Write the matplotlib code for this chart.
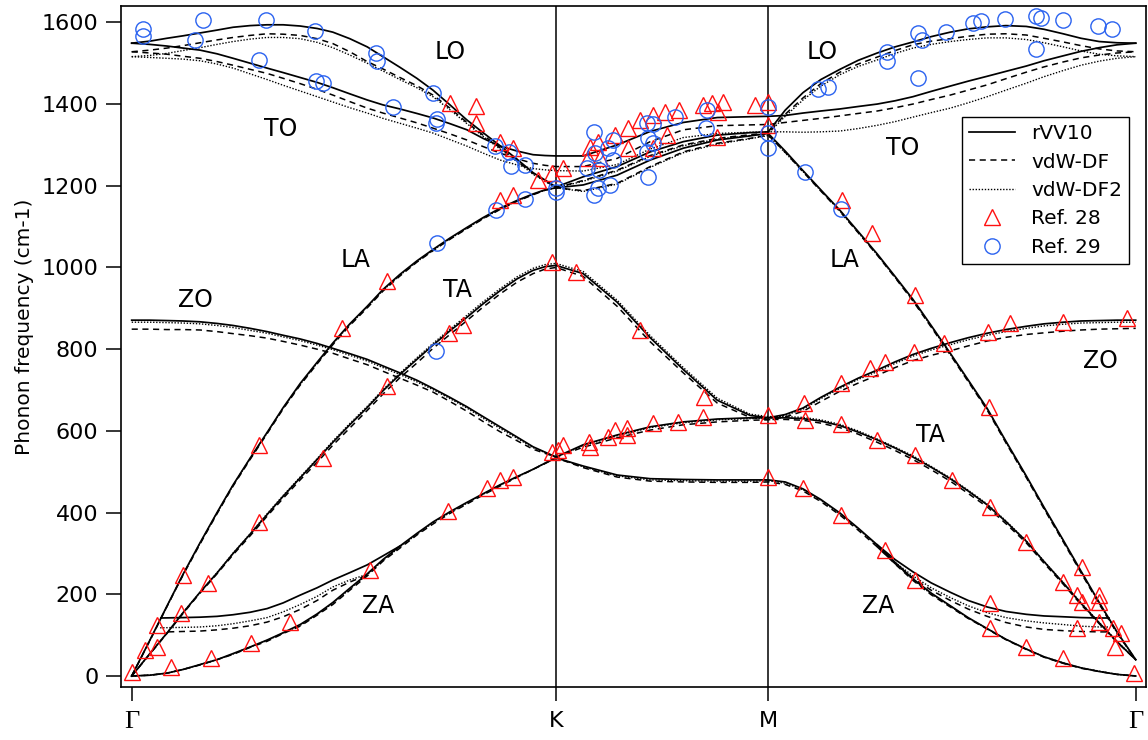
import matplotlib
matplotlib.use('Agg')
import matplotlib.pyplot as plt

# path coordinate: G=0, K=1, M=1.5, G=2.366
q_gk = [0.0, 0.043, 0.083, 0.121, 0.161, 0.201, 0.239, 0.279, 0.319, 0.357, 0.397, 0.437, 0.474,
        0.514, 0.555, 0.592, 0.632, 0.672, 0.710, 0.750, 0.790, 0.828, 0.868, 0.908, 0.946, 0.974, 1.0]
q_km = [1.064, 1.144, 1.222, 1.300, 1.380, 1.457, 1.5]
q_mg = [1.540, 1.582, 1.624, 1.669, 1.712, 1.757, 1.799, 1.841, 1.884, 1.929, 1.971, 2.016,
        2.060, 2.108, 2.150, 2.195, 2.237, 2.280, 2.322, 2.366]
q_path = q_gk + q_km + q_mg

# rVV10 bands (cm-1): G-K | K-M | M-G
lo_rvv = [1549, 1554, 1561, 1567, 1574, 1581, 1588, 1592, 1594, 1594, 1591, 1585, 1576, 1560,
          1540, 1516, 1490, 1463, 1434, 1398, 1361, 1330, 1298, 1265, 1232, 1214, 1197,
          1222, 1247, 1283, 1308, 1324, 1330, 1332,
          1385, 1428, 1460, 1485, 1507, 1525, 1540, 1552, 1565, 1576, 1584, 1589, 1592, 1590,
          1583, 1572, 1561, 1553, 1550, 1549]
to_rvv = [1549, 1546, 1542, 1537, 1532, 1523, 1512, 1500, 1488, 1477, 1465, 1453, 1440, 1425,
          1410, 1398, 1388, 1377, 1366, 1352, 1337, 1316, 1297, 1285, 1276, 1274, 1273,
          1273, 1300, 1333, 1355, 1367, 1369, 1370,
          1372, 1378, 1383, 1388, 1394, 1400, 1408, 1418, 1431, 1444, 1456, 1468, 1480, 1493,
          1506, 1518, 1529, 1538, 1545, 1549]
la_rvv = [0, 88, 171, 249, 326, 400, 468, 533, 596, 657, 716, 768, 815, 862,
          905, 946, 983, 1016, 1044, 1072, 1098, 1122, 1145, 1164, 1180, 1190, 1195,
          1202, 1226, 1263, 1292, 1312, 1322, 1328,
          1285, 1237, 1190, 1140, 1088, 1033, 978, 922, 858, 790, 725, 655, 575, 490,
          413, 333, 257, 180, 108, 40]
ta_rvv = [0, 55, 105, 155, 205, 252, 300, 347, 395, 440, 485, 530, 572, 615,
          657, 698, 738, 775, 810, 845, 878, 911, 943, 972, 993, 1002, 1005,
          985, 915, 828, 750, 675, 638, 632,
          632, 630, 624, 613, 597, 578, 558, 536, 511, 483, 453, 419, 378, 330,
          280, 228, 178, 130, 84, 40]
zo_rvv = [871, 871, 870, 869, 867, 863, 858, 851, 843, 834, 825, 814, 802, 789,
          775, 759, 742, 724, 704, 682, 659, 635, 610, 585, 561, 548, 536,
          566, 590, 610, 622, 629, 632, 632,
          640, 656, 682, 707, 729, 749, 769, 787, 802, 816, 828, 839, 848, 856,
          862, 866, 869, 870, 871, 871]
za_rvv = [0, 2, 7, 16, 28, 40, 55, 71, 88, 106, 126, 152, 180, 215,
          250, 285, 318, 349, 377, 402, 425, 446, 468, 488, 506, 521, 534,
          514, 492, 483, 481, 480, 480, 480,
          475, 458, 432, 399, 362, 321, 278, 238, 203, 172, 143, 116, 90, 66,
          47, 32, 20, 11, 4, 0]

# vdW-DF bands
lo_df = [1528, 1532, 1537, 1543, 1550, 1557, 1563, 1568, 1572, 1571, 1568, 1560, 1548, 1528,
         1504, 1486, 1465, 1445, 1422, 1390, 1355, 1324, 1293, 1261, 1230, 1212, 1195,
         1213, 1238, 1274, 1300, 1316, 1325, 1329,
         1375, 1415, 1450, 1478, 1498, 1515, 1531, 1545, 1554, 1560, 1566, 1571, 1572, 1569,
         1561, 1552, 1543, 1535, 1530, 1528]
to_df = [1528, 1525, 1522, 1517, 1512, 1504, 1495, 1485, 1475, 1463, 1450, 1436, 1422, 1406,
         1390, 1378, 1366, 1354, 1341, 1327, 1312, 1296, 1280, 1266, 1255, 1250, 1247,
         1247, 1267, 1308, 1337, 1347, 1349, 1350,
         1355, 1360, 1365, 1371, 1377, 1383, 1391, 1400, 1411, 1422, 1434, 1447, 1462, 1478,
         1491, 1503, 1513, 1520, 1525, 1528]
la_df = [0, 87, 170, 247, 323, 397, 465, 530, 593, 654, 712, 764, 811, 858,
         901, 942, 979, 1013, 1041, 1069, 1095, 1119, 1142, 1162, 1178, 1189, 1195,
         1188, 1206, 1247, 1283, 1304, 1316, 1324,
         1282, 1234, 1187, 1137, 1085, 1030, 975, 918, 854, 786, 721, 651, 571, 486,
         409, 329, 253, 176, 105, 40]
ta_df = [0, 54, 104, 153, 203, 250, 297, 343, 391, 435, 480, 523, 565, 607,
         650, 690, 730, 766, 802, 836, 870, 903, 935, 964, 985, 996, 1000,
         978, 905, 818, 742, 668, 633, 628,
         628, 626, 619, 608, 592, 572, 552, 530, 505, 477, 447, 414, 373, 326,
         276, 225, 175, 128, 83, 40]
zo_df = [849, 849, 848, 848, 847, 843, 838, 833, 827, 819, 810, 800, 790, 776,
         762, 746, 729, 712, 695, 672, 648, 623, 598, 576, 555, 545, 536,
         560, 583, 602, 615, 622, 626, 627,
         634, 648, 672, 697, 717, 736, 755, 772, 785, 796, 808, 820, 829, 836,
         840, 844, 847, 849, 850, 851]
za_df = [0, 2, 7, 16, 27, 40, 53, 70, 85, 104, 122, 149, 175, 210,
         245, 281, 313, 345, 372, 398, 421, 443, 465, 486, 506, 520, 534,
         510, 487, 477, 475, 474, 474, 475,
         469, 453, 427, 394, 357, 316, 274, 234, 199, 169, 141, 115, 89, 65,
         46, 31, 19, 11, 4, 0]

# vdW-DF2 bands
lo_df2 = [1516, 1519, 1524, 1531, 1538, 1546, 1553, 1559, 1563, 1563, 1560, 1551, 1538, 1520,
          1500, 1481, 1460, 1440, 1418, 1386, 1352, 1321, 1290, 1259, 1228, 1211, 1195,
          1211, 1236, 1272, 1298, 1314, 1323, 1328,
          1370, 1410, 1444, 1472, 1492, 1508, 1524, 1537, 1546, 1553, 1558, 1562, 1562, 1558,
          1550, 1540, 1530, 1522, 1518, 1516]
to_df2 = [1516, 1514, 1512, 1510, 1506, 1498, 1488, 1474, 1460, 1446, 1432, 1418, 1405, 1391,
          1378, 1365, 1353, 1341, 1329, 1313, 1297, 1280, 1263, 1251, 1242, 1239, 1237,
          1236, 1252, 1290, 1318, 1328, 1331, 1332,
          1332, 1331, 1332, 1334, 1340, 1348, 1357, 1368, 1379, 1390, 1403, 1418, 1434, 1451,
          1467, 1482, 1495, 1505, 1512, 1516]
la_df2 = [0, 88, 170, 248, 325, 399, 467, 532, 595, 656, 714, 766, 813, 860,
          903, 944, 981, 1014, 1042, 1070, 1096, 1120, 1143, 1163, 1179, 1189, 1195,
          1186, 1204, 1245, 1281, 1302, 1315, 1323,
          1281, 1235, 1188, 1138, 1086, 1031, 976, 920, 856, 788, 723, 653, 573, 488,
          411, 331, 255, 178, 106, 40]
ta_df2 = [0, 55, 105, 155, 205, 253, 301, 348, 397, 442, 487, 532, 575, 618,
          660, 701, 741, 779, 814, 849, 883, 916, 948, 977, 998, 1007, 1010,
          990, 920, 833, 755, 680, 641, 635,
          635, 633, 627, 616, 600, 580, 560, 539, 513, 485, 455, 421, 380, 331,
          281, 229, 179, 131, 85, 40]
zo_df2 = [866, 866, 865, 864, 862, 858, 853, 846, 839, 830, 821, 810, 799, 785,
          771, 755, 738, 720, 701, 679, 656, 631, 606, 582, 559, 547, 536,
          564, 588, 608, 620, 627, 630, 631,
          638, 653, 679, 704, 726, 745, 765, 783, 798, 811, 823, 834, 843, 851,
          857, 861, 864, 865, 866, 866]
za_df2 = [0, 2, 7, 16, 28, 40, 54, 71, 87, 105, 124, 151, 178, 213,
          248, 283, 316, 347, 375, 400, 423, 445, 467, 487, 506, 521, 534,
          512, 490, 480, 478, 477, 477, 478,
          472, 456, 430, 397, 360, 319, 276, 236, 201, 171, 142, 116, 90, 66,
          47, 32, 20, 12, 4, 0]

# extra low branch near Gamma (band-ordering feature)
za2l_q_rvv = [0.069, 0.121, 0.161, 0.201, 0.239, 0.279, 0.319, 0.357, 0.397, 0.437, 0.474,
              0.514, 0.555, 0.592, 0.632]
za2l_rvv = [142, 143, 144, 146, 150, 156, 165, 179, 198, 216, 235, 253, 272, 294, 318]
za2l_q_df = [0.086, 0.121, 0.161, 0.201, 0.239, 0.279, 0.319, 0.357, 0.397, 0.437, 0.474,
             0.514, 0.555]
za2l_df = [108, 109, 110, 113, 117, 123, 132, 145, 163, 185, 210, 230, 247]
za2l_q_df2 = [0.067, 0.121, 0.161, 0.201, 0.239, 0.279, 0.319, 0.357, 0.397, 0.437, 0.474,
              0.514, 0.555]
za2l_df2 = [118, 119, 120, 123, 128, 135, 143, 157, 175, 195, 218, 235, 249]
za2r_q = [1.757, 1.799, 1.841, 1.884, 1.929, 1.971, 2.016, 2.060, 2.108, 2.150, 2.195,
          2.237, 2.280, 2.303]
za2r_rvv = [321, 285, 255, 228, 205, 185, 169, 158, 151, 147, 145, 143, 142, 142]
za2r_df = [316, 275, 240, 210, 185, 164, 146, 131, 120, 114, 111, 109, 108, 108]
za2r_df2 = [319, 278, 245, 216, 192, 172, 155, 143, 135, 130, 126, 122, 120, 120]

# Ref. 28 (triangles)
ref28_q = [0.0, 0.031, 0.060, 0.060, 0.093, 0.121, 0.117, 0.180, 0.186, 0.280, 0.300, 0.300,
           0.373, 0.451, 0.496, 0.562, 0.602, 0.602, 0.748, 0.781, 0.746, 0.837, 0.868, 0.899,
           0.990, 0.990, 1.005, 0.750, 0.812, 0.812, 0.868, 0.899, 0.958, 0.990, 1.017, 0.868,
           0.899, 1.080, 1.099, 1.075, 1.104, 1.139, 1.170, 1.170, 1.198, 1.229, 1.229, 1.257,
           1.262, 1.290, 1.347, 1.368, 1.394, 1.382, 1.380, 1.469, 1.500, 1.500, 1.047, 1.198,
           1.349, 1.500, 1.584, 1.587, 1.017, 1.078, 1.080, 1.123, 1.139, 1.167, 1.167, 1.229,
           1.288, 1.347, 1.500, 1.582, 1.672, 1.672, 1.740, 1.775, 1.757, 1.844, 1.846, 1.915,
           1.933, 1.846, 2.021, 2.018, 2.070, 2.195, 2.346, 1.674, 1.745, 1.672, 1.775, 1.846,
           2.023, 2.108, 2.023, 2.023, 2.108, 2.195, 2.240, 2.195, 2.228, 2.240, 2.280, 2.280,
           2.228, 2.280, 2.313, 2.332, 2.318, 2.362]
ref28_w = [10, 64, 72, 125, 23, 247, 155, 228, 43, 82, 565, 377,
           133, 534, 852, 259, 967, 710, 840, 859, 404, 460, 480, 487,
           1013, 548, 553, 1403, 1395, 1354, 1307, 1293, 1214, 1231, 1244, 1165,
           1177, 1295, 1307, 1268, 1268, 1324, 1341, 1292, 1361, 1373, 1292, 1381,
           1324, 1386, 1398, 1403, 1405, 1381, 1319, 1398, 1405, 1349, 989, 847,
           683, 639, 668, 627, 565, 573, 561, 585, 602, 607, 590, 619,
           622, 634, 487, 460, 717, 617, 754, 769, 578, 793, 541, 815,
           480, 933, 659, 842, 864, 867, 876, 1165, 1084, 394, 308, 235,
           414, 328, 179, 117, 71, 44, 267, 230, 198, 181, 198, 181,
           117, 132, 117, 105, 71, 7]

# Ref. 29 (circles)
ref29_q = [0.027, 0.027, 0.168, 0.149, 0.317, 0.300, 0.432, 0.434, 0.451, 0.576, 0.578, 0.616,
           0.710, 0.720, 0.717, 0.856, 0.889, 0.894, 0.927, 0.859, 0.927, 0.720, 1.000, 1.000,
           0.717, 1.090, 1.073, 1.092, 1.101, 1.090, 1.099, 1.127, 1.134, 1.123, 1.134, 1.215,
           1.229, 1.217, 1.229, 1.215, 1.217, 1.281, 1.356, 1.354, 1.500, 1.500, 1.500, 1.618,
           1.641, 1.587, 1.672, 1.780, 1.780, 1.853, 1.853, 1.863, 1.919, 1.983, 2.002, 2.058,
           2.131, 2.143, 2.131, 2.195, 2.277, 2.310]
ref29_w = [1584, 1567, 1606, 1557, 1606, 1508, 1579, 1457, 1452, 1525, 1506, 1393,
           1427, 1364, 1354, 1297, 1283, 1248, 1251, 1141, 1168, 1060, 1195, 1185,
           796, 1332, 1243, 1280, 1239, 1177, 1195, 1202, 1312, 1292, 1263, 1354,
           1351, 1317, 1305, 1283, 1222, 1368, 1386, 1341, 1393, 1329, 1292, 1437,
           1442, 1234, 1143, 1528, 1506, 1464, 1574, 1557, 1577, 1598, 1603, 1608,
           1616, 1611, 1535, 1606, 1591, 1584]

sym_pos = [0.0, 1.0, 1.5, 2.366]
sym_lab = ['Γ', 'K', 'M', 'Γ']

label_q = [0.750, 1.627, 0.350, 1.818, 0.527, 1.681, 0.767, 1.882, 0.151, 2.282, 0.581, 1.760]
label_w = [1527, 1527, 1340, 1293, 1018, 1018, 945, 590, 921, 772, 172, 172]
label_txt = ['LO', 'LO', 'TO', 'TO', 'LA', 'LA', 'TA', 'TA', 'ZO', 'ZO', 'ZA', 'ZA']

plt.rcParams['font.family'] = 'DejaVu Sans'
fig = plt.figure(figsize=(11.48, 7.40), dpi=100)
ax = fig.add_axes([0.10514, 0.07162, 0.89313, 0.92027])

styles = {
    'rVV10': dict(color='black', lw=1.25, ls='-'),
    'vdW-DF': dict(color='black', lw=1.1, ls=(0, (4, 3))),
    'vdW-DF2': dict(color='black', lw=1.0, ls=(0, (1, 1.2))),
}
bands = {
    'rVV10': [lo_rvv, to_rvv, la_rvv, ta_rvv, zo_rvv, za_rvv],
    'vdW-DF': [lo_df, to_df, la_df, ta_df, zo_df, za_df],
    'vdW-DF2': [lo_df2, to_df2, la_df2, ta_df2, zo_df2, za_df2],
}
extra = {
    'rVV10': [(za2l_q_rvv, za2l_rvv), (za2r_q, za2r_rvv)],
    'vdW-DF': [(za2l_q_df, za2l_df), (za2r_q, za2r_df)],
    'vdW-DF2': [(za2l_q_df2, za2l_df2), (za2r_q, za2r_df2)],
}

handles = []
for name in ['vdW-DF2', 'vdW-DF', 'rVV10']:
    for b in bands[name]:
        ln, = ax.plot(q_path, b, **styles[name])
    for qq, ww in extra[name]:
        ax.plot(qq, ww, **styles[name])
    ln.set_label(name)
    handles.append(ln)
handles = handles[::-1]

for xv in [1.0, 1.5]:
    ax.axvline(xv, color='black', lw=1.1)

h28, = ax.plot(ref28_q, ref28_w, ls='none', marker='^', ms=11, mfc='none',
               mec='#ff1010', mew=1.0, label='Ref. 28')
h29, = ax.plot(ref29_q, ref29_w, ls='none', marker='o', ms=11, mfc='none',
               mec='#2a62f0', mew=1.0, label='Ref. 29')
handles += [h28, h29]

for qx, wy, t in zip(label_q, label_w, label_txt):
    ax.text(qx, wy, t, fontsize=17, ha='center', va='center')

ax.set_xlim(-0.0259, 2.3903)
ax.set_ylim(-26.9, 1640)
ax.set_xticks(sym_pos)
ax.set_xticklabels(sym_lab)
for lab in ax.get_xticklabels():
    if lab.get_text() == 'Γ':
        lab.set_fontfamily('Liberation Serif')
        lab.set_fontsize(19)
    else:
        lab.set_fontsize(16)
ax.set_yticks(range(0, 1601, 200))
ax.tick_params(axis='y', direction='out', length=10.5, width=1.1, pad=5.5, labelsize=16)
ax.tick_params(axis='x', direction='out', length=10, width=1.1, pad=7)
for sp in ax.spines.values():
    sp.set_linewidth(1.2)

fig.text(24 / 1148, 1 - 327 / 740, 'Phonon frequency (cm-1)', rotation=90,
         ha='center', va='center', fontsize=14.5)

leg = ax.legend(handles=handles, loc='upper left', bbox_to_anchor=(0.8205, 0.837),
                borderaxespad=0, fontsize=14.5, handlelength=2.3, handletextpad=0.8,
                labelspacing=0.47, borderpad=0.35, numpoints=1, fancybox=False,
                edgecolor='black', framealpha=1)
leg.get_frame().set_linewidth(1.0)

fig.savefig('out.png', dpi=100)
